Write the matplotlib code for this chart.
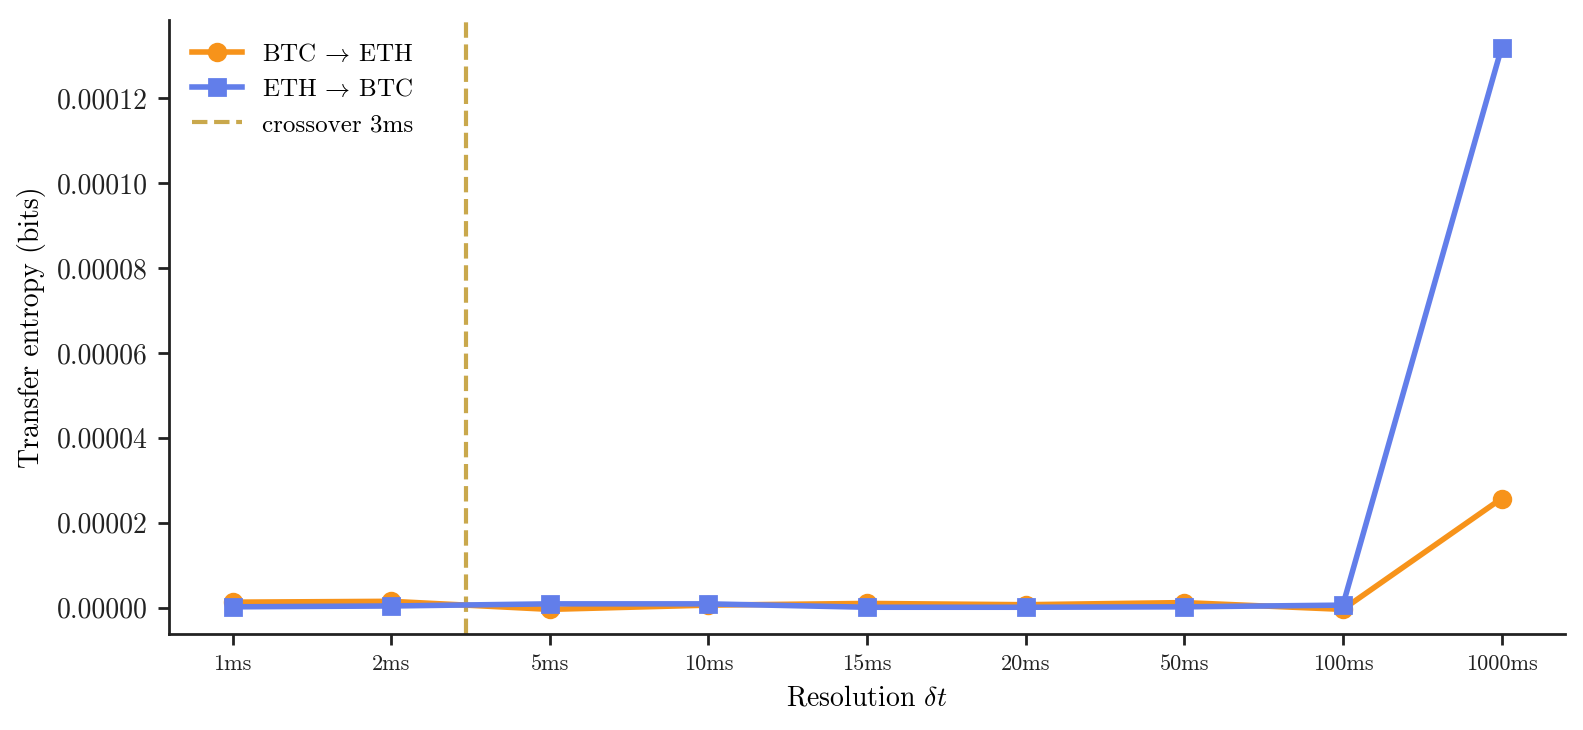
import numpy as np
import matplotlib
matplotlib.use("Agg")
import matplotlib.pyplot as plt

plt.rcParams['font.family'] = 'serif'
plt.rcParams['font.serif'] = ['cmr10', 'DejaVu Serif']
plt.rcParams['mathtext.fontset'] = 'cm'
plt.rcParams['axes.formatter.use_mathtext'] = True
plt.rcParams['axes.unicode_minus'] = False

resolutions = ["1ms", "2ms", "5ms", "10ms", "15ms", "20ms", "50ms", "100ms", "1000ms"]
btc_to_eth = [1.3e-6, 1.5e-6, -0.4e-6, 0.6e-6, 1.0e-6, 0.7e-6, 1.2e-6, -0.4e-6, 2.57e-5]
eth_to_btc = [0.2e-6, 0.4e-6, 0.9e-6, 0.9e-6, 0.1e-6, 0.1e-6, 0.2e-6, 0.6e-6, 1.318e-4]
crossover_label = "crossover 3ms"
crossover_pos = 1.47

fig = plt.figure(figsize=(7.915, 3.65), dpi=200)
ax = fig.add_axes([0.1068, 0.1315, 0.8818, 0.8411])

x = np.arange(len(resolutions))
ax.plot(x, btc_to_eth, color='#F7931A', marker='o', markersize=6, linewidth=2.0,
        label=r'BTC $\!\rightarrow\!$ ETH', zorder=3)
ax.plot(x, eth_to_btc, color='#627EEA', marker='s', markersize=5.5, linewidth=2.0,
        label=r'ETH $\!\rightarrow\!$ BTC', zorder=4)
ax.axvline(crossover_pos, color='#C9A84C', linestyle='--', linewidth=1.5,
           label=crossover_label, zorder=2)

ax.set_xticks(x)
ax.set_xticklabels(resolutions, fontsize=8)
ax.set_xlim(-0.4, len(resolutions) - 0.6)
ax.set_ylim(-6.2e-6, 1.384e-4)
ax.tick_params(axis='y', labelsize=10)
ax.set_xlabel(r'Resolution $\delta t$', fontsize=10)
ax.set_ylabel('Transfer entropy (bits)', fontsize=10)
ax.yaxis.set_major_formatter(matplotlib.ticker.FormatStrFormatter('%.5f'))

for s in ['top', 'right']:
    ax.spines[s].set_visible(False)
for s in ['left', 'bottom']:
    ax.spines[s].set_color('#222222')
    ax.spines[s].set_linewidth(1.0)
ax.tick_params(colors='#222222', width=1.0, length=4)

ax.legend(loc='upper left', frameon=False, fontsize=9)

fig.savefig('out.png', dpi=200)
